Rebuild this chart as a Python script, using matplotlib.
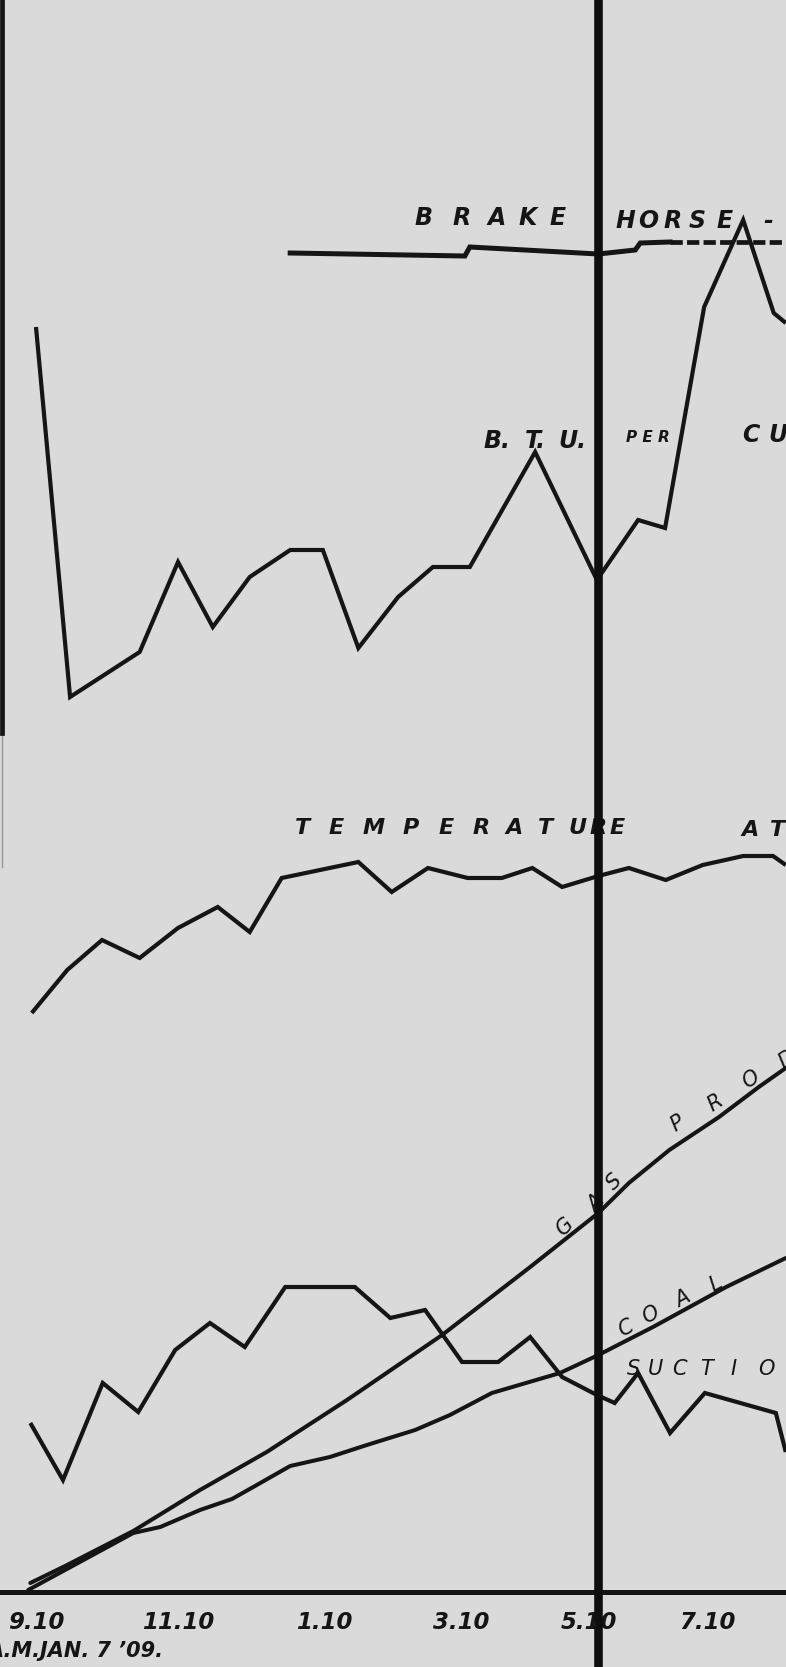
#!/usr/bin/env python3
"""Gas producer test log, run of Jan. 7 '09: half-hourly readings of brake
horse-power, B.T.U. per cubic foot, temperature, gas produced, coal fired and
suction, all plotted on one sheet against clock time.

x is hours elapsed since the 9.10 A.M. reading; y is height on the sheet in
chart divisions above the base line (each curve has its own scale).
"""
import matplotlib
matplotlib.use("Agg")
import matplotlib.pyplot as plt

PAPER = "#dadada"
INK = "#151515"
FONT = "DejaVu Sans"

# ---- readings -------------------------------------------------------------
BRAKE_H = [3.58, 6.04, 6.11, 7.92, 8.44, 8.51, 8.93]
BRAKE_V = [133.9, 133.6, 134.5, 133.8, 134.2, 134.9, 135.0]
BRAKE_EST_H = [8.93, 10.56]                      # carried on dashed
BRAKE_EST_V = [135.0, 135.0]

BTU_H = [0.00, 0.48, 1.46, 2.00, 2.49, 3.01, 3.58, 4.04, 4.54, 5.10,
         5.59, 6.11, 7.03, 7.90, 8.48, 8.86, 9.41, 9.96, 10.39, 10.56]
BTU_V = [126.5, 89.5, 94.0, 103.0, 96.5, 101.5, 104.2, 104.2, 94.4, 99.5,
         102.5, 102.5, 114.0, 101.2, 107.2, 106.4, 128.5, 137.2, 127.9, 126.9]

TEMP_H = [-0.06, 0.44, 0.93, 1.46, 2.00, 2.56, 3.01, 3.46, 4.54, 5.01, 5.52,
          6.08, 6.56, 6.99, 7.41, 7.92, 8.35, 8.87, 9.39, 9.96, 10.38, 10.56]
TEMP_V = [57.9, 62.2, 65.2, 63.4, 66.4, 68.5, 66.0, 71.4, 73.0, 70.0, 72.4,
          71.4, 71.4, 72.4, 70.5, 71.6, 72.4, 71.2, 72.7, 73.6, 73.6, 72.7]

GAS_H = [-0.08, 0.41, 1.37, 2.31, 3.25, 4.38, 5.72, 6.96, 7.92, 8.35,
         8.92, 9.62, 10.18, 10.56]
GAS_V = [0.9, 2.6, 6.1, 10.2, 14.0, 19.2, 25.7, 32.5, 37.9, 40.9,
         44.2, 47.5, 50.5, 52.4]

COAL_H = [-0.11, 1.37, 1.75, 2.31, 2.76, 3.06, 3.58, 4.14, 4.66, 5.34,
          5.83, 6.42, 7.38, 7.92, 8.69, 9.72, 10.56]
COAL_V = [0.2, 5.9, 6.5, 8.2, 9.3, 10.5, 12.6, 13.5, 14.7, 16.2,
          17.7, 19.9, 21.9, 23.7, 26.5, 30.5, 33.4]

SUCTION_H = [-0.08, 0.38, 0.94, 1.44, 1.96, 2.45, 2.94, 3.51, 4.49, 4.99, 5.48,
             6.00, 6.51, 6.96, 7.41, 7.90, 8.15, 8.48, 8.93, 9.42, 10.42, 10.56]
SUCTION_V = [16.9, 11.2, 20.9, 18.0, 24.2, 26.9, 24.5, 30.5, 30.5, 27.4, 28.2,
             23.0, 23.0, 25.5, 21.5, 19.7, 18.9, 21.9, 15.9, 19.9, 17.9, 14.0]

MARK_H = 7.92                                   # the 5.10 reading, ruled heavy

TICK_H = [0.0, 2.0, 4.06, 5.99, 7.79, 9.45]
TICK_LABELS = ["9.10", "11.10", "1.10", "3.10", "5.10", "7.10"]
DATE_TEXT = "A.M.JAN. 7 \u201909."

# hand-lettered curve names: letters, x, y, rotation, size, weight
LETTERING = [
    (list("BRAKE"), [5.46, 6.00, 6.49, 6.93, 7.35], 137.4, 0, 17, "bold"),
    (list("HORSE-"), [8.30, 8.62, 8.96, 9.31, 9.70, 10.31], 137.1, 0, 17, "bold"),
    (["B.", "T.", "U."], [6.49, 7.03, 7.56], 115.1, 0, 17, "bold"),
    (["P E R"], [8.62], 115.5, 0, 11, "bold"),
    (list("CU"), [10.07, 10.45], 115.7, 0, 17, "bold"),
    (list("TEMPERATURE"), [3.76, 4.23, 4.75, 5.28, 5.77, 6.27, 6.73, 7.17,
                           7.63, 7.92, 8.18], 76.4, 0, 16, "bold"),
    (list("AT"), [10.06, 10.44], 76.2, 0, 16, "bold"),
    (list("GAS"), [7.45, 7.89, 8.14], [36.5, 38.8, 41.0], 45, 15, "normal"),
    (list("PROD"), [9.04, 9.56, 10.06, 10.58], [46.8, 48.9, 51.2, 53.2], 33, 15, "normal"),
    (list("COAL"), [8.31, 8.66, 9.10, 9.58], [26.4, 27.7, 29.3, 30.8], 28, 15, "normal"),
    (list("SUCTIO"), [8.42, 8.73, 9.06, 9.44, 9.82, 10.28], 22.3, 0, 15, "normal"),
]

fig = plt.figure(figsize=(7.86, 16.67), dpi=100, facecolor=PAPER)
ax = fig.add_axes([0, 0, 1, 1])
ax.set_facecolor(PAPER)
ax.set_xlim(-0.507, 10.563)
ax.set_ylim(-7.5, 159.2)
ax.axis("off")

# sheet rules: base line, left margin, heavy 5.10 line
ax.axhline(0, color=INK, lw=3.6, zorder=2)
ax.axvline(-0.48, ymin=0.56, ymax=1.0, color=INK, lw=3.4, zorder=2)
ax.axvline(-0.48, ymin=0.48, ymax=0.56, color=INK, lw=1.0, alpha=0.35, zorder=2)
ax.axvline(MARK_H, color="#0e0e0e", lw=6.2, zorder=6)

zig = dict(color=INK, lw=3.0, solid_joinstyle="miter", solid_capstyle="butt", zorder=3)
smooth = dict(color=INK, lw=2.9, solid_joinstyle="round", solid_capstyle="round", zorder=3)

ax.plot(BRAKE_H, BRAKE_V, color=INK, lw=3.6, solid_joinstyle="miter", zorder=3)
ax.plot(BRAKE_EST_H, BRAKE_EST_V, color=INK, lw=3.4, dashes=(2.6, 0.9), zorder=3)
ax.plot(BTU_H, BTU_V, **zig)
ax.plot(TEMP_H, TEMP_V, **zig)
ax.plot(GAS_H, GAS_V, **smooth)
ax.plot(COAL_H, COAL_V, **smooth)
ax.plot(SUCTION_H, SUCTION_V, **zig)

for letters, xs, ys, rot, size, weight in LETTERING:
    if not isinstance(ys, list):
        ys = [ys] * len(xs)
    for ch, x, y in zip(letters, xs, ys):
        ax.text(x, y, ch, ha="center", va="center", rotation=rot,
                rotation_mode="anchor", fontsize=size, fontweight=weight,
                fontstyle="oblique", family=FONT, color=INK, zorder=4)

for h, lab in zip(TICK_H, TICK_LABELS):
    ax.text(h, -3.0, lab, ha="center", va="center", fontsize=16.5,
            fontweight="bold", fontstyle="oblique", family=FONT, color=INK, zorder=4)

# date line runs off the left edge of the sheet
ax.text(-0.68, -5.9, DATE_TEXT, ha="left", va="center", fontsize=15,
        fontweight="bold", fontstyle="oblique", family=FONT, color=INK, zorder=4)

fig.savefig("out.png", dpi=100, facecolor=PAPER)
